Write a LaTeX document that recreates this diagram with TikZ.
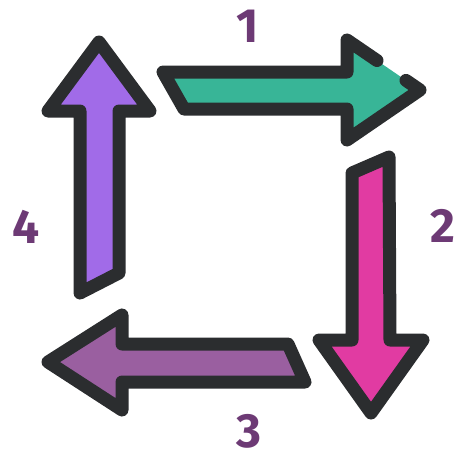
\documentclass[tikz,border=0pt]{standalone}
\usepackage{fontspec}
\setmainfont{Fira Sans}
\begin{document}
\begin{tikzpicture}[x=1pt,y=-1pt,
  outl/.style={draw=strokec,line width=13pt,line join=round,line cap=round},
  num/.style={text=numc,font=\fontsize{48}{48}\selectfont\bfseries,inner sep=0pt,anchor=base}]
\definecolor{strokec}{HTML}{2B2D2F}
\definecolor{numc}{HTML}{6D3A75}
\definecolor{greenc}{HTML}{38B597}
\definecolor{magc}{HTML}{E13BA2}
\definecolor{purc}{HTML}{9A5FA0}
\definecolor{vioc}{HTML}{A16BE8}
\useasboundingbox (0,0) rectangle (456,453);
% arrow 1 (green, right)
\fill[greenc] (163,72) -- (347,72) -- (347,40) -- (420,90) -- (347,140) -- (347,109) -- (184,109) -- cycle;
\draw[outl] (406,80.4) -- (420,90) -- (347,140) -- (347,109) -- (184,109) -- (163,72) -- (347,72) -- (347,40) -- (377,60.5);
% arrow 2 (magenta, down)
\filldraw[fill=magc,outl] (352,173) -- (389,157) -- (390,340) -- (423,340) -- (371,413) -- (319,340) -- (352,340) -- cycle;
% arrow 3 (purple, left)
\filldraw[fill=purc,outl] (288,344) -- (305,382) -- (122,382) -- (122,410) -- (48,362) -- (122,315) -- (122,344) -- cycle;
% arrow 4 (violet, up)
\filldraw[fill=vioc,outl] (80,293) -- (80,111) -- (48,111) -- (99,42) -- (150,111) -- (119,111) -- (119,273) -- cycle;
% labels
\node[num] (n1) at (248,42) {1};
\node[num] (n2) at (443,242) {2};
\node[num] (n3) at (249,447) {3};
\node[num] (n4) at (26,243) {4};
\end{tikzpicture}
\end{document}
